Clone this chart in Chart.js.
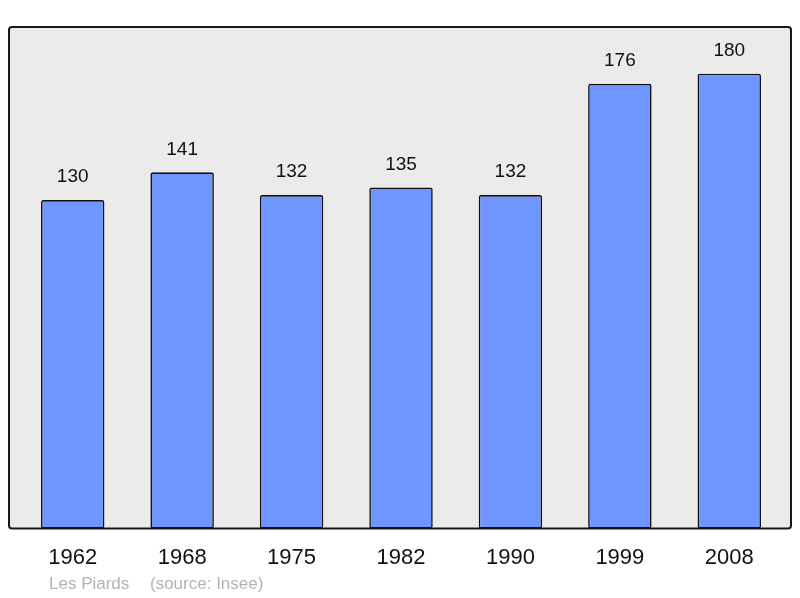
<!DOCTYPE html>
<html>
<head>
<meta charset="utf-8">
<script src="https://cdn.jsdelivr.net/npm/chart.js@4"></script>
<style>
  html, body { margin: 0; padding: 0; background: #fff; }
  #wrap { width: 800px; height: 598px; }
</style>
</head>
<body>
<div id="wrap"><canvas id="chart" width="800" height="598"></canvas></div>
<script>
// Population of Les Piards by census year
const years = ["1962", "1968", "1975", "1982", "1990", "1999", "2008"];
const population = [130, 141, 132, 135, 132, 176, 180];
const footerName = "Les Piards";
const footerSource = "(source: Insee)";

const FONT = "'Liberation Sans', Arial, sans-serif";

// grey panel with dark rounded border behind the bars
const panel = {
  id: "panel",
  beforeDatasetsDraw(chart) {
    const { ctx, chartArea: a } = chart;
    const x0 = a.left - 9, x1 = a.right + 7, y0 = a.top, y1 = a.bottom;
    ctx.save();
    ctx.beginPath();
    ctx.roundRect(x0, y0, x1 - x0, y1 - y0, 3);
    ctx.fillStyle = "#ebebeb";
    ctx.fill();
    ctx.lineWidth = 2;
    ctx.strokeStyle = "#1a1a1a";
    ctx.stroke();
    ctx.restore();
  },
  afterDraw(chart) {
    const { ctx } = chart;
    ctx.save();
    ctx.font = "17px " + FONT;
    ctx.fillStyle = "#b3b3b3";
    ctx.textBaseline = "middle";
    ctx.fillText(footerName, 49, 584);
    ctx.fillText(footerSource, 150, 584);
    ctx.restore();
  }
};

// numbers above each bar
const valueLabels = {
  id: "valueLabels",
  afterDatasetsDraw(chart) {
    const { ctx } = chart;
    const meta = chart.getDatasetMeta(0);
    ctx.save();
    ctx.font = "19px " + FONT;
    ctx.fillStyle = "#111";
    ctx.textAlign = "center";
    ctx.textBaseline = "middle";
    meta.data.forEach((bar, i) => {
      ctx.fillText(population[i], bar.x, bar.y - 23);
    });
    ctx.restore();
  }
};

new Chart(document.getElementById("chart"), {
  type: "bar",
  data: {
    labels: years,
    datasets: [{
      data: population,
      backgroundColor: "#6f96ff",
      borderColor: "#111",
      borderWidth: 1.6,
      borderRadius: 2,
      borderSkipped: false,
      barPercentage: 0.58,
      categoryPercentage: 1,
    }],
  },
  options: {
    responsive: false,
    animation: false,
    layout: { padding: { left: 18, right: 16, top: 27, bottom: 11 } },
    plugins: { legend: { display: false }, tooltip: { enabled: false } },
    scales: {
      x: {
        grid: { display: false, drawTicks: false },
        border: { display: false },
        ticks: { color: "#111", font: { family: FONT, size: 22 }, padding: 16 },
      },
      y: {
        display: false,
        min: 0,
        max: 198.5,
      },
    },
  },
  plugins: [panel, valueLabels],
});
</script>
</body>
</html>
